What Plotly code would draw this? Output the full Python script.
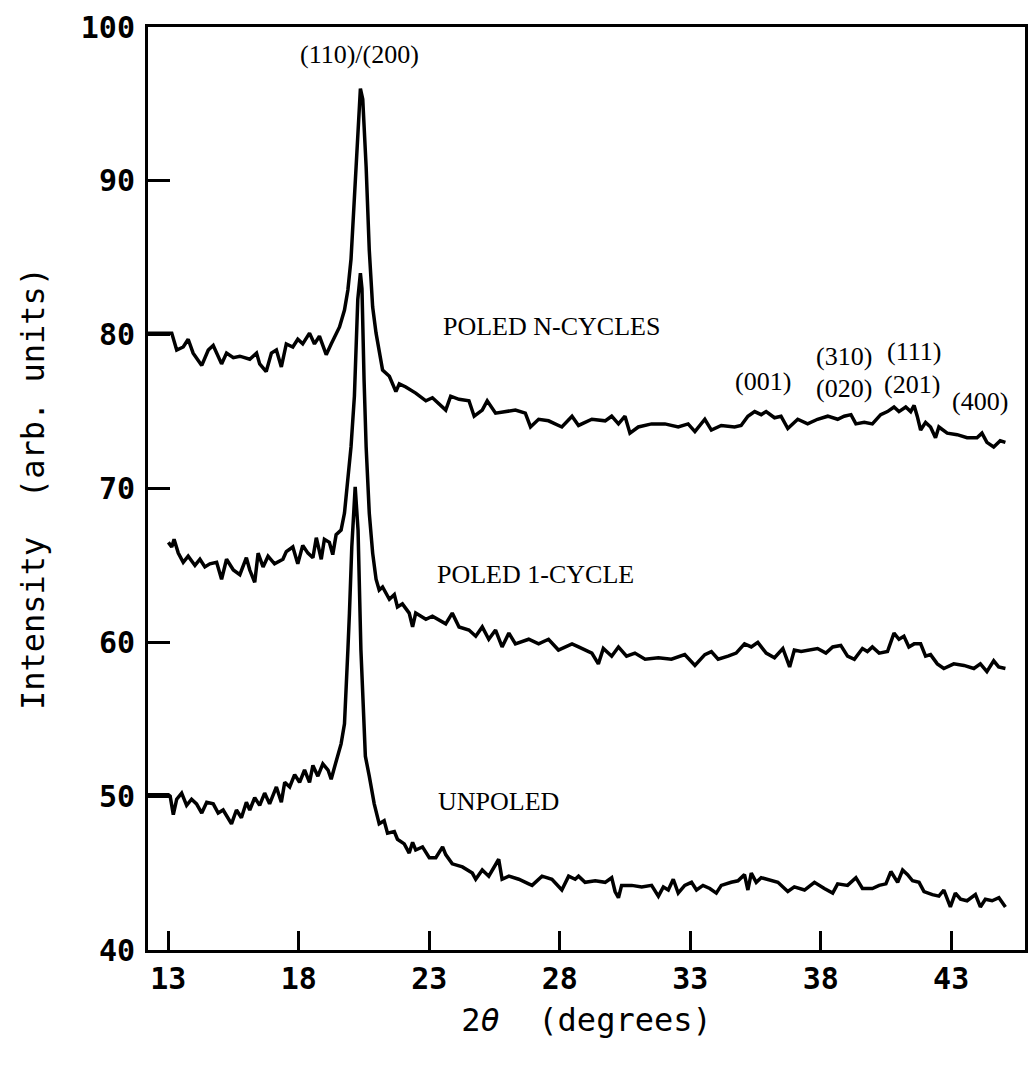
import plotly.graph_objects as go

# ---- data ----
ncyc_x = [12.22, 13.13, 13.32, 13.57, 13.76, 13.95, 14.28, 14.53, 14.72, 14.85, 15.04, 15.23, 15.49, 15.74,
          16.12, 16.38, 16.50, 16.75, 16.95, 17.14, 17.33, 17.52, 17.77, 17.96, 18.15, 18.41, 18.60, 18.79,
          19.05, 19.24, 19.43, 19.56, 19.75, 19.88, 20.00, 20.13, 20.26, 20.36, 20.45, 20.58, 20.70, 20.83,
          20.96, 21.08, 21.21, 21.47, 21.72, 21.85, 22.10, 22.48, 22.87, 23.12, 23.63, 23.82, 24.14, 24.52,
          24.72, 25.03, 25.22, 25.54, 26.05, 26.30, 26.68, 26.88, 27.19, 27.57, 28.08, 28.47, 28.72, 29.23,
          29.74, 29.99, 30.25, 30.50, 30.69, 31.01, 31.52, 32.03, 32.54, 32.92, 33.18, 33.56, 33.81, 34.19,
          34.70, 34.95, 35.21, 35.47, 35.72, 35.91, 36.23, 36.48, 36.74, 37.12, 37.50, 37.88, 38.27, 38.65,
          38.90, 39.16, 39.35, 39.67, 39.98, 40.30, 40.56, 40.81, 41.00, 41.26, 41.45, 41.58, 41.70, 41.83,
          42.02, 42.21, 42.40, 42.53, 42.85, 43.23, 43.61, 43.99, 44.18, 44.37, 44.63, 44.88, 45.08]
ncyc_y = [80.1, 80.1, 79.0, 79.2, 79.7, 78.8, 78.0, 79.0, 79.3, 78.8, 78.1, 78.8, 78.5, 78.6,
          78.4, 78.8, 78.1, 77.6, 78.8, 79.0, 77.9, 79.4, 79.2, 79.7, 79.4, 80.1, 79.4, 79.9,
          78.7, 79.4, 80.1, 80.5, 81.6, 82.9, 84.9, 88.8, 93.1, 96.0, 95.3, 90.9, 85.5, 81.8,
          80.1, 78.8, 77.7, 77.3, 76.3, 76.8, 76.6, 76.2, 75.7, 75.9, 75.1, 76.0, 75.8, 75.7,
          74.7, 75.1, 75.7, 74.9, 75.0, 75.1, 74.9, 74.0, 74.5, 74.4, 74.0, 74.7, 74.1, 74.5,
          74.4, 74.7, 74.2, 74.7, 73.6, 74.0, 74.2, 74.2, 74.0, 74.2, 73.7, 74.5, 73.8, 74.1,
          74.0, 74.1, 74.7, 75.0, 74.8, 75.0, 74.6, 74.7, 73.9, 74.5, 74.2, 74.5, 74.7, 74.5,
          74.7, 74.8, 74.2, 74.3, 74.2, 74.8, 75.0, 75.3, 75.0, 75.3, 75.0, 75.4, 74.7, 73.8,
          74.3, 74.0, 73.3, 74.0, 73.6, 73.5, 73.3, 73.3, 73.6, 73.0, 72.7, 73.1, 73.0]

one_x = [13.00, 13.13, 13.22, 13.38, 13.57, 13.76, 14.02, 14.21, 14.40, 14.59, 14.85, 15.04, 15.23, 15.49,
         15.74, 15.99, 16.12, 16.31, 16.44, 16.63, 16.82, 17.07, 17.39, 17.52, 17.77, 17.96, 18.15, 18.35,
         18.54, 18.67, 18.86, 18.98, 19.17, 19.30, 19.43, 19.62, 19.75, 19.88, 20.00, 20.13, 20.26, 20.36,
         20.42, 20.50, 20.58, 20.70, 20.83, 20.96, 21.08, 21.21, 21.47, 21.66, 21.78, 21.97, 22.23, 22.36,
         22.48, 22.87, 23.12, 23.63, 23.88, 24.14, 24.52, 24.78, 25.03, 25.28, 25.54, 25.79, 26.05, 26.30,
         26.81, 27.19, 27.57, 27.95, 28.47, 28.72, 29.23, 29.48, 29.67, 29.99, 30.25, 30.56, 30.88, 31.27,
         31.78, 32.28, 32.79, 33.18, 33.56, 33.81, 34.07, 34.45, 34.76, 35.08, 35.34, 35.59, 35.91, 36.23,
         36.55, 36.81, 36.99, 37.25, 37.63, 37.88, 38.20, 38.46, 38.77, 39.03, 39.29, 39.60, 39.79, 39.98,
         40.24, 40.56, 40.81, 41.00, 41.19, 41.38, 41.58, 41.83, 42.02, 42.21, 42.47, 42.72, 43.10, 43.49,
         43.87, 44.12, 44.37, 44.63, 44.82, 45.08]
one_y = [66.5, 66.2, 66.7, 65.8, 65.2, 65.6, 65.0, 65.4, 64.9, 65.1, 65.2, 64.1, 65.4, 64.7,
         64.4, 65.5, 64.7, 63.9, 65.8, 64.9, 65.6, 65.1, 65.4, 65.9, 66.2, 65.1, 66.3, 65.8,
         65.5, 66.8, 65.4, 66.7, 66.5, 65.7, 67.0, 67.3, 68.4, 70.6, 72.7, 76.0, 82.3, 84.0,
         83.0, 77.1, 72.7, 68.4, 65.8, 64.1, 63.4, 63.6, 62.8, 63.1, 62.3, 62.5, 61.9, 61.0,
         61.9, 61.5, 61.7, 61.2, 61.9, 61.0, 60.8, 60.4, 61.0, 60.2, 60.8, 59.7, 60.6, 59.9,
         60.2, 59.9, 60.2, 59.5, 59.9, 59.7, 59.3, 58.6, 59.6, 59.1, 59.7, 59.1, 59.3, 58.9,
         59.0, 58.9, 59.2, 58.5, 59.2, 59.4, 58.9, 59.1, 59.3, 59.9, 59.7, 60.0, 59.3, 59.0,
         59.6, 58.4, 59.5, 59.4, 59.5, 59.6, 59.3, 59.7, 59.8, 59.1, 58.9, 59.6, 59.4, 59.7,
         59.3, 59.4, 60.6, 60.2, 60.4, 59.7, 59.9, 59.9, 59.1, 59.2, 58.6, 58.3, 58.6, 58.5,
         58.3, 58.6, 58.1, 58.8, 58.4, 58.3]

unp_x = [12.22, 13.00, 13.07, 13.19, 13.32, 13.51, 13.70, 13.89, 14.08, 14.28, 14.47, 14.72, 14.91, 15.10,
         15.42, 15.61, 15.80, 15.99, 16.12, 16.31, 16.50, 16.69, 16.88, 17.14, 17.33, 17.46, 17.65, 17.84,
         18.03, 18.22, 18.41, 18.54, 18.73, 18.92, 19.12, 19.24, 19.37, 19.50, 19.62, 19.75, 19.82, 19.88,
         19.94, 20.03, 20.16, 20.22, 20.27, 20.38, 20.45, 20.55, 20.70, 20.89, 21.08, 21.27, 21.40, 21.66,
         21.78, 22.04, 22.23, 22.36, 22.48, 22.74, 23.00, 23.25, 23.51, 23.63, 23.88, 24.27, 24.65, 24.78,
         25.03, 25.28, 25.66, 25.79, 26.05, 26.43, 26.81, 26.94, 27.32, 27.70, 28.08, 28.34, 28.59, 28.72,
         28.97, 29.36, 29.74, 29.99, 30.12, 30.25, 30.37, 30.76, 31.14, 31.52, 31.78, 31.97, 32.16, 32.35,
         32.54, 32.79, 33.05, 33.24, 33.49, 33.75, 34.00, 34.19, 34.57, 34.83, 35.08, 35.21, 35.34, 35.53,
         35.72, 36.10, 36.36, 36.74, 36.99, 37.38, 37.76, 38.14, 38.46, 38.65, 39.03, 39.35, 39.60, 39.98,
         40.24, 40.50, 40.69, 40.95, 41.14, 41.33, 41.52, 41.77, 41.96, 42.28, 42.53, 42.72, 42.97, 43.16,
         43.36, 43.61, 43.93, 44.12, 44.31, 44.57, 44.83, 45.08]
unp_y = [50.1, 50.1, 50.0, 48.8, 49.8, 50.2, 49.4, 49.8, 49.5, 48.9, 49.6, 49.5, 48.9, 49.1,
         48.2, 49.1, 48.6, 49.6, 49.1, 49.9, 49.4, 50.2, 49.5, 50.6, 49.6, 50.9, 50.6, 51.4,
         50.9, 51.7, 50.9, 52.0, 51.3, 52.1, 51.7, 51.1, 51.9, 52.6, 53.4, 54.7, 56.9, 59.5,
         61.9, 66.2, 70.1, 68.0, 67.3, 59.5, 56.3, 52.6, 51.3, 49.5, 48.2, 48.4, 47.6, 47.7,
         47.2, 46.9, 46.3, 47.0, 46.5, 46.7, 46.0, 46.0, 46.7, 46.2, 45.6, 45.4, 45.0, 44.6,
         45.2, 44.8, 45.9, 44.6, 44.8, 44.6, 44.3, 44.2, 44.8, 44.6, 43.9, 44.8, 44.6, 44.8,
         44.4, 44.5, 44.4, 44.7, 43.8, 43.4, 44.2, 44.2, 44.1, 44.2, 43.5, 44.1, 43.9, 44.6,
         43.7, 44.2, 44.4, 43.9, 44.2, 44.0, 43.7, 44.2, 44.4, 44.5, 44.9, 43.9, 45.0, 44.4,
         44.7, 44.5, 44.4, 43.8, 44.1, 43.9, 44.4, 44.0, 43.7, 44.3, 44.2, 44.7, 44.0, 44.0,
         44.2, 44.3, 45.1, 44.4, 45.2, 44.9, 44.5, 44.4, 43.8, 43.6, 43.5, 43.9, 42.8, 43.7,
         43.3, 43.2, 43.6, 42.8, 43.3, 43.2, 43.4, 42.8]

x_ticks = [13, 18, 23, 28, 33, 38, 43]
y_ticks = [40, 50, 60, 70, 80, 90, 100]

# annotations: (text, x, y, xanchor)
labels = [
    ("(110)/(200)", 20.32, 98.2, "center"),
    ("POLED N-CYCLES", 23.45, 80.5, "left"),
    ("(001)", 35.78, 76.95, "center"),
    ("(310)", 38.90, 78.58, "center"),
    ("(020)", 38.90, 76.52, "center"),
    ("(111)", 41.58, 78.90, "center"),
    ("(201)", 41.51, 76.74, "center"),
    ("(400)", 44.12, 75.65, "center"),
    ("POLED 1-CYCLE", 23.22, 64.38, "left"),
    ("UNPOLED", 23.25, 49.64, "left"),
]

fig = go.Figure()
for xs, ys, name in [(ncyc_x, ncyc_y, "POLED N-CYCLES"), (one_x, one_y, "POLED 1-CYCLE"), (unp_x, unp_y, "UNPOLED")]:
    fig.add_trace(go.Scatter(x=xs, y=ys, mode="lines", name=name,
                             line=dict(color="black", width=3.5), hoverinfo="skip"))

for text, x, y, xa in labels:
    fig.add_annotation(x=x, y=y, text=text, showarrow=False, xanchor=xa, yanchor="middle",
                       font=dict(family="Liberation Serif", size=26, color="black"))

axis_common = dict(showline=True, linecolor="black", linewidth=3, mirror=True,
                   ticks="inside", tickcolor="black", tickwidth=3, showgrid=False, zeroline=False,
                   tickfont=dict(family="DejaVu Sans Mono", size=30, color="black", weight="bold"))

fig.update_layout(
    width=1031, height=1067,
    margin=dict(l=148, r=3, t=27, b=117),
    paper_bgcolor="white", plot_bgcolor="white",
    showlegend=False,
    xaxis=dict(range=[12.22, 45.83], tickvals=x_ticks, ticktext=[str(v) for v in x_ticks], ticklen=19,
               title=dict(text="2<i>θ</i>  (degrees)", standoff=14,
                          font=dict(family="DejaVu Sans Mono", size=32, color="black")),
               **axis_common),
    yaxis=dict(range=[40, 100], tickvals=y_ticks, ticktext=[str(v) for v in y_ticks], ticklen=22,
               ticklabelstandoff=4,
               title=dict(text="Intensity  (arb. units)", standoff=27,
                          font=dict(family="DejaVu Sans Mono", size=32, color="black")),
               **axis_common),
)

fig.write_html("out.html")
